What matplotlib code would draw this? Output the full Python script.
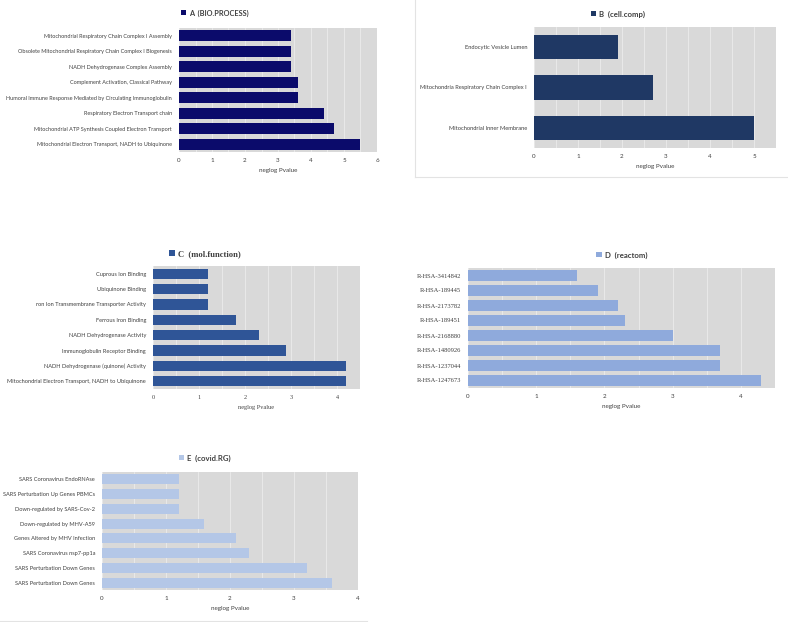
import numpy as np
import matplotlib
matplotlib.use('Agg')
import matplotlib.pyplot as plt
from matplotlib.lines import Line2D
from matplotlib.ticker import MultipleLocator

# data, listed bottom -> top as drawn
a_terms = ['Mitochondrial Electron Transport, NADH to Ubiquinone',
           'Mitochondrial ATP Synthesis Coupled Electron Transport',
           'Respiratory Electron Transport chain',
           'Humoral Immune Response Mediated by Circulating Immunoglobulin',
           'Complement Activation, Classical Pathway',
           'NADH Dehydrogenase Complex Assembly',
           'Obsolete Mitochondrial Respiratory Chain Complex I Biogenesis',
           'Mitochondrial Respiratory Chain Complex I Assembly']
a_vals = [5.5, 4.7, 4.4, 3.6, 3.6, 3.4, 3.4, 3.4]

b_terms = ['Mitochondrial Inner Membrane',
           'Mitochondria Respiratory Chain Complex I',
           'Endocytic Vesicle Lumen']
b_vals = [5.0, 2.7, 1.9]

c_terms = ['Mitochondrial Electron Transport, NADH to Ubiquinone',
           'NADH Dehydrogenase (quinone) Activity',
           'Immunoglobulin Receptor Binding',
           'NADH Dehydrogenase Activity',
           'Ferrous Iron Binding',
           'ron Ion Transmembrane Transporter Activity',
           'Ubiquinone Binding',
           'Cuprous Ion Binding']
c_vals = [4.2, 4.2, 2.9, 2.3, 1.8, 1.2, 1.2, 1.2]

d_terms = ['R-HSA-1247673', 'R-HSA-1237044', 'R-HSA-1480926', 'R-HSA-2168880',
           'R-HSA-189451', 'R-HSA-2173782', 'R-HSA-189445', 'R-HSA-3414842']
d_vals = [4.3, 3.7, 3.7, 3.0, 2.3, 2.2, 1.9, 1.6]

e_terms = ['SARS Perturbation Down Genes',
           'SARS Perturbation Down Genes',
           'SARS Coronavirus nsp7-pp1a',
           'Genes Altered by MHV Infection',
           'Down-regulated by MHV-A59',
           'Down-regulated by SARS-Cov-2',
           'SARS Perturbation Up Genes PBMCs',
           'SARS Coronavirus EndoRNAse']
e_vals = [3.6, 3.2, 2.3, 2.1, 1.6, 1.2, 1.2, 1.2]

W, H = 788, 622
fig = plt.figure(figsize=(W / 100, H / 100), dpi=100)
fig.patch.set_facecolor('white')

def px_axes(x0, y0, x1, y1):
    return fig.add_axes([x0 / W, 1 - y1 / H, (x1 - x0) / W, (y1 - y0) / H])

def panel(box, terms, vals, color, title, tcenter, ty, xmax, ticks, height,
          lab_font='Lato', lab_size=4.1, title_font='Lato', title_size=5.6,
          xl_font='Lato'):
    ax = px_axes(*box)
    ax.set_facecolor('#d9d9d9')
    y = np.arange(len(terms))
    ax.barh(y, vals, height=height, color=color, label=title, zorder=3)
    ax.set_xlim(0, xmax)
    ax.set_ylim(-0.5, len(terms) - 0.5)
    ax.set_yticks(y)
    ax.set_yticklabels(terms, fontsize=lab_size, family=lab_font, color='#404040')
    ax.set_xticks(ticks)
    ax.set_xticklabels([str(t) for t in ticks], fontsize=4.5, family=xl_font,
                       color='#404040')
    ax.xaxis.set_minor_locator(MultipleLocator(0.5))
    ax.grid(axis='x', which='both', color='white', lw=0.5, alpha=0.6, zorder=1)
    ax.tick_params(which='both', length=0, pad=4)
    ax.tick_params(axis='y', pad=5)
    for s in ax.spines.values():
        s.set_visible(False)
    ax.set_xlabel('neglog Pvalue', fontsize=4.5, family=xl_font, color='#404040',
                  labelpad=4)
    ax.legend(loc='center', bbox_to_anchor=(tcenter / W, 1 - ty / H),
              bbox_transform=fig.transFigure, frameon=False,
              handlelength=0.7, handleheight=0.7, handletextpad=0.4,
              prop={'family': title_font, 'size': title_size, 'weight': 'bold'},
              labelcolor='#404040')
    return ax

panel((179, 28, 377, 152), a_terms, a_vals, '#0b0b6b', 'A  (BIO.PROCESS)',
      215, 13, 6, range(0, 7), 0.73, lab_size=3.95, title_size=5.3)
panel((534, 27, 776, 148), b_terms, b_vals, '#1f3864', 'B  (cell.comp)',
      618, 14, 5.5, range(0, 6), 0.6, lab_size=4.15)
panel((153, 266, 360, 389), c_terms, c_vals, '#2f5597', 'C  (mol.function)',
      205, 254, 4.5, range(0, 5), 0.66, title_font='Liberation Serif',
      title_size=6.2, xl_font='Liberation Serif')
panel((468, 268, 775, 388), d_terms, d_vals, '#8faadc', 'D  (reactom)',
      622, 255, 4.5, range(0, 5), 0.67, lab_font='Liberation Serif', lab_size=4.7)
panel((102, 472, 358, 590), e_terms, e_vals, '#b4c7e7', 'E  (covid.RG)',
      205, 458, 4, range(0, 5), 0.68)

# panel frame lines
fig.add_artist(Line2D([415 / W, 415 / W], [1, 1 - 177 / H], color='#e3e3e3', lw=0.8))
fig.add_artist(Line2D([415 / W, 1], [1 - 177 / H, 1 - 177 / H], color='#e3e3e3', lw=0.8))
fig.add_artist(Line2D([0, 367 / W], [1 - 621 / H, 1 - 621 / H], color='#e3e3e3', lw=0.8))

fig.savefig('out.png', dpi=100)
